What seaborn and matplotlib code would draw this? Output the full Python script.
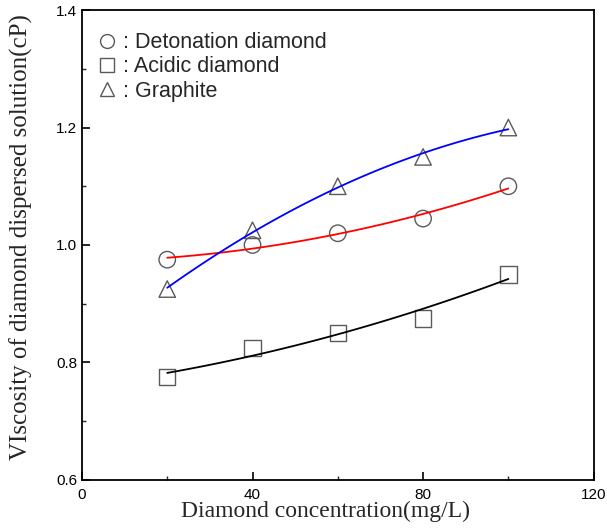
"""
Viscosity of diamond dispersed solution vs. concentration
"""

import matplotlib.pyplot as plt
import numpy as np
import pandas as pd
import seaborn as sns
from matplotlib.lines import Line2D
from matplotlib.ticker import MultipleLocator

concentration = [20, 40, 60, 80, 100]
detonation = [0.975, 1.0, 1.02, 1.045, 1.1]
acidic = [0.775, 0.825, 0.85, 0.875, 0.95]
graphite = [0.925, 1.025, 1.1, 1.15, 1.2]

series_names = ["Detonation diamond", "Acidic diamond", "Graphite"]
series_values = [detonation, acidic, graphite]
markers = ["o", "s", "^"]
fit_colors = ["red", "black", "blue"]

sns.set_style("ticks")
plt.rcParams["font.family"] = ["Liberation Sans", "DejaVu Sans"]

fig = plt.figure(figsize=(6.07, 5.32), dpi=100)
ax = fig.add_axes([0.135, 0.098, 0.843, 0.883])

x_fit = np.linspace(min(concentration), max(concentration), 100)
for name, values, marker, color in zip(series_names, series_values, markers, fit_colors):
    pts = pd.DataFrame({"x": concentration, "y": values})
    sns.scatterplot(
        data=pts, x="x", y="y", marker=marker, s=140,
        facecolor="none", edgecolor="#5a5a5a", linewidth=1.0, ax=ax, zorder=2,
    )

    # quadratic fit curve drawn through the points
    coef = np.polyfit(concentration, values, 2)
    fit_df = pd.DataFrame({"x": x_fit, "y": np.polyval(coef, x_fit)})
    sns.lineplot(data=fit_df, x="x", y="y", color=color, lw=1.3, ax=ax, zorder=3)

ax.set_xlim(0, 120)
ax.set_ylim(0.6, 1.4)
ax.xaxis.set_major_locator(MultipleLocator(40))
ax.xaxis.set_minor_locator(MultipleLocator(20))
ax.yaxis.set_major_locator(MultipleLocator(0.2))
ax.yaxis.set_minor_locator(MultipleLocator(0.1))
ax.set_xticks([0, 40, 80, 120])
ax.set_xticklabels(["0", "40", "80", "120"])
ax.set_yticklabels([f"{v:.1f}" for v in ax.get_yticks()])
ax.tick_params(which="major", direction="in", length=6, width=1.2, labelsize=11, colors="black")
ax.tick_params(which="minor", direction="in", length=3, width=1.0)
ax.tick_params(axis="x", pad=6)
for side in ax.spines.values():
    side.set_linewidth(1.3)
    side.set_color("black")

ax.set_xlabel("Diamond concentration(mg/L)", family="Liberation Serif", fontsize=17)
ax.set_ylabel("VIscosity of diamond dispersed solution(cP)", family="Liberation Serif",
              fontsize=18)
ax.xaxis.set_label_coords(0.475, -0.045)
ax.yaxis.set_label_coords(-0.095, 0.517)

handles = [
    Line2D([], [], ls="none", marker=m, ms=10, mfc="none", mec="#5a5a5a", mew=1.0)
    for m in markers
]
ax.legend(handles, [": " + n for n in series_names], loc="upper left", frameon=False,
          fontsize=15.5, handlelength=0.9, handletextpad=0.3, labelspacing=0.15,
          borderaxespad=0.3, bbox_to_anchor=(0.0, 0.985))

fig.savefig("out.png", dpi=100)
